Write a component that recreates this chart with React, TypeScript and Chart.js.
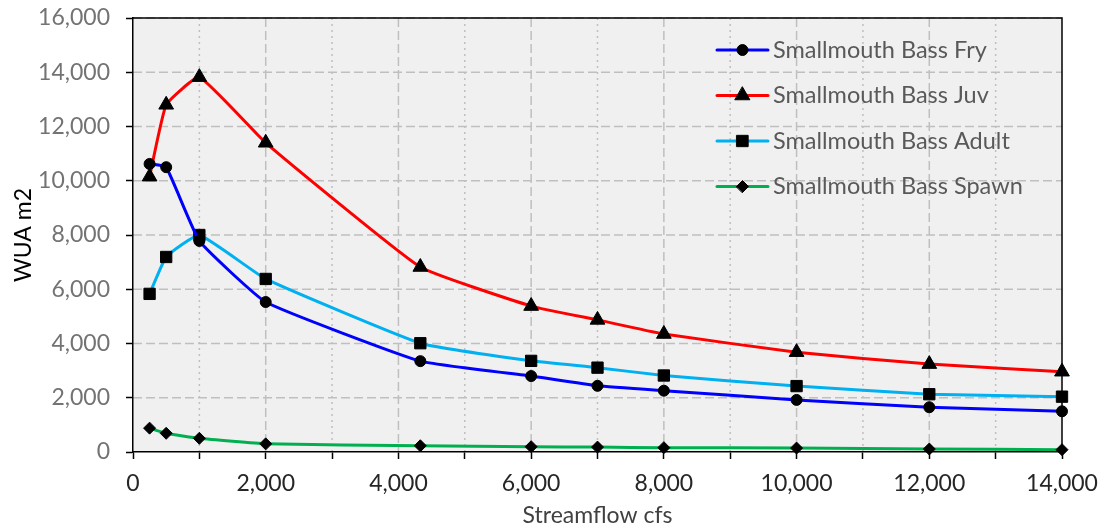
import React, { useEffect, useRef } from 'react';
import { Chart, registerables } from 'chart.js';
import { drawPoint } from 'chart.js/helpers';

Chart.register(...registerables);

const flows = [250, 500, 1000, 2000, 4330, 6000, 7000, 8000, 10000, 12000, 14000];
const fry = [10620, 10500, 7780, 5530, 3350, 2800, 2440, 2260, 1920, 1650, 1500];
const juv = [10150, 12800, 13820, 11400, 6820, 5380, 4870, 4350, 3680, 3240, 2960];
const adult = [5830, 7190, 8000, 6380, 4010, 3360, 3110, 2820, 2430, 2130, 2040];
const spawn = [880, 690, 505, 300, 230, 195, 180, 160, 145, 110, 85];

const seriesNames = [
  'Smallmouth Bass Fry',
  'Smallmouth Bass Juv',
  'Smallmouth Bass Adult',
  'Smallmouth Bass Spawn',
];
const seriesValues = [fry, juv, adult, spawn];
const seriesColors = ['#0000ff', '#ff0000', '#00b0f0', '#00b050'];
const seriesMarkers = ['circle', 'triangle', 'rect', 'rectRot'];
const markerRadius = [5.5, 8.5, 8, 6];

const xTitle = 'Streamflow cfs';
const yTitle = 'WUA m2';
const xMin = 0, xMax = 14000, xStep = 1000, xLabelStep = 2000;
const yMin = 0, yMax = 16000, yStep = 2000;

const FONT = 'Lato, "Open Sans", "Noto Sans", sans-serif';

const fmt = (v: number) => Number(v).toLocaleString('en-US');

const excelFrame = {
  id: 'excelFrame',
  beforeDraw(chart: any) {
    const { ctx, chartArea: a, scales } = chart;
    const x = scales.x, y = scales.y;
    ctx.save();
    ctx.fillStyle = '#f0f0f0';
    ctx.fillRect(a.left, a.top, a.right - a.left, a.bottom - a.top);
    ctx.strokeStyle = '#bfbfbf';
    ctx.lineWidth = 1.5;
    x.ticks.forEach((t: any) => {
      const px = x.getPixelForValue(t.value);
      if (px <= a.left + 1 || px >= a.right - 1) return;
      const major = t.value % xLabelStep === 0;
      ctx.setLineDash(major ? [9, 4] : [2, 4]);
      ctx.beginPath();
      ctx.moveTo(px, a.top);
      ctx.lineTo(px, a.bottom);
      ctx.stroke();
    });
    y.ticks.forEach((t: any) => {
      const py = y.getPixelForValue(t.value);
      if (py >= a.bottom - 1) return;
      ctx.setLineDash([9, 4]);
      ctx.beginPath();
      ctx.moveTo(a.left, py);
      ctx.lineTo(a.right, py);
      ctx.stroke();
    });
    ctx.restore();
  },
  beforeDatasetsDraw(chart: any) {
    const { ctx, chartArea: a } = chart;
    ctx.save();
    ctx.strokeStyle = '#000';
    ctx.lineWidth = 1.5;
    ctx.beginPath();
    ctx.moveTo(a.left, a.top);
    ctx.lineTo(a.right, a.top);
    ctx.lineTo(a.right, a.bottom);
    ctx.stroke();
    ctx.restore();
  },
};

const innerLegend = {
  id: 'innerLegend',
  afterDraw(chart: any) {
    const { ctx, chartArea: a } = chart;
    const x0 = a.right - 345;
    const y0 = a.top + 32;
    const gap = 45.5;
    ctx.save();
    chart.data.datasets.forEach((ds: any, i: number) => {
      const yy = y0 + i * gap;
      ctx.setLineDash([]);
      ctx.strokeStyle = ds.borderColor;
      ctx.lineWidth = 3;
      ctx.lineCap = 'round';
      ctx.beginPath();
      ctx.moveTo(x0, yy);
      ctx.lineTo(x0 + 51, yy);
      ctx.stroke();
      ctx.fillStyle = '#000';
      ctx.strokeStyle = '#000';
      ctx.lineWidth = 1;
      drawPoint(ctx, { pointStyle: ds.pointStyle, radius: ds.pointRadius, rotation: 0, borderWidth: 1 }, x0 + 25.5, yy);
      ctx.fillStyle = '#595959';
      ctx.font = `23.5px ${FONT}`;
      ctx.textBaseline = 'middle';
      ctx.textAlign = 'left';
      ctx.fillText(ds.label, x0 + 56, yy);
    });
    ctx.restore();
  },
};

export default function App() {
  const ref = useRef<HTMLCanvasElement>(null);
  useEffect(() => {
    if (!ref.current) return;
    const datasets = seriesNames.map((name, i) => ({
      label: name,
      data: flows.map((f, j) => ({ x: f, y: seriesValues[i][j] })),
      borderColor: seriesColors[i],
      backgroundColor: seriesColors[i],
      borderWidth: 3,
      pointStyle: seriesMarkers[i],
      pointRadius: markerRadius[i],
      pointBackgroundColor: '#000',
      pointBorderColor: '#000',
      pointBorderWidth: 1,
      tension: 0.12,
      clip: false as any,
      fill: false,
    }));
    const chart = new Chart(ref.current, {
      type: 'line',
      data: { datasets },
      plugins: [excelFrame, innerLegend],
      options: {
        responsive: false,
        animation: false,
        devicePixelRatio: 1,
        layout: { padding: { top: 18, right: 46, left: 0, bottom: 0 } },
        plugins: { legend: { display: false }, tooltip: { enabled: false } },
        scales: {
          x: {
            type: 'linear',
            min: xMin,
            max: xMax,
            ticks: {
              stepSize: xStep,
              autoSkip: false,
              maxRotation: 0,
              callback: (v: any) => (Number(v) % xLabelStep === 0 ? fmt(v) : ''),
              color: '#262626',
              font: { family: FONT, size: 23 },
              padding: 11,
            },
            grid: { drawOnChartArea: false, drawTicks: true, tickLength: 7, tickColor: '#000', tickWidth: 1.5 },
            border: { color: '#000', width: 1.5 },
            title: {
              display: true,
              text: xTitle,
              color: '#404040',
              font: { family: FONT, size: 23 },
              padding: { top: 0, bottom: 2 },
            },
            afterFit: (s: any) => { s.height = 79; s.paddingLeft = 0; s.paddingRight = 0; },
          },
          y: {
            type: 'linear',
            min: yMin,
            max: yMax,
            ticks: {
              stepSize: yStep,
              callback: (v: any) => fmt(v),
              color: '#737373',
              font: { family: FONT, size: 23 },
              padding: 16,
            },
            grid: { drawOnChartArea: false, drawTicks: true, tickLength: 7, tickColor: '#000', tickWidth: 1.5 },
            border: { color: '#000', width: 1.5 },
            title: {
              display: true,
              text: yTitle,
              color: '#000',
              font: { family: FONT, size: 23 },
              padding: { top: 10, bottom: 0 },
            },
            afterFit: (s: any) => { s.width = 133; s.paddingTop = 0; s.paddingBottom = 0; },
          },
        },
      } as any,
    });
    return () => chart.destroy();
  }, []);
  return (
    <div style={{ position: 'absolute', left: 0, top: 0, width: 1108, height: 531, background: '#fff' }}>
      <canvas ref={ref} width={1108} height={531} style={{ display: 'block' }} />
    </div>
  );
}
